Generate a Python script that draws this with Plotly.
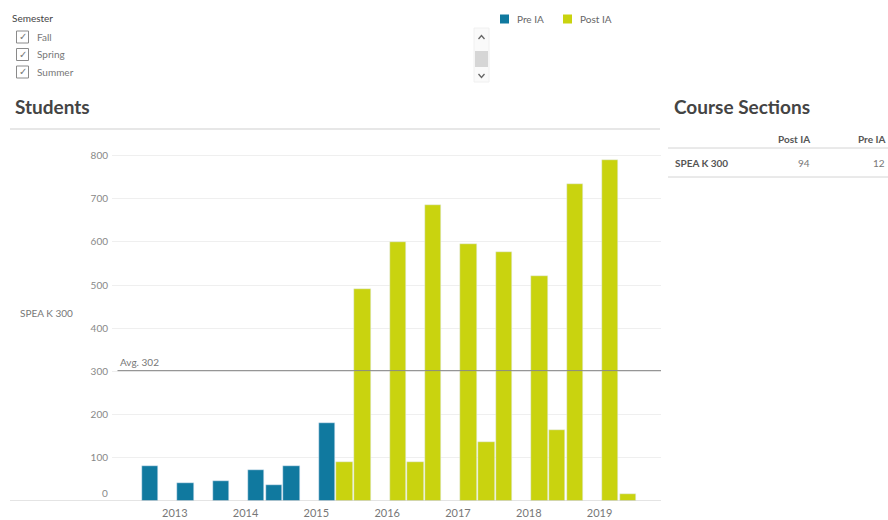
import plotly.graph_objects as go

# Enrolment per term for SPEA K 300
pre_terms = ["Fall 2012", "Spring 2013", "Fall 2013", "Spring 2014", "Summer 2014",
             "Fall 2014", "Spring 2015"]
pre_students = [80, 42, 46, 72, 38, 82, 181]

post_terms = ["Summer 2015", "Fall 2015", "Spring 2016", "Summer 2016", "Fall 2016",
              "Spring 2017", "Summer 2017", "Fall 2017", "Spring 2018", "Summer 2018",
              "Fall 2018", "Spring 2019", "Summer 2019"]
post_students = [91, 492, 600, 91, 685, 596, 137, 576, 522, 165, 735, 790, 17]

years = [2013, 2014, 2015, 2016, 2017, 2018, 2019]
semesters = ["Fall", "Spring", "Summer"]

# Course sections table
section_course = "SPEA K 300"
sections_post = 94
sections_pre = 12

PRE_COLOR = "#10799f"
POST_COLOR = "#c9d30f"
FONT = "Lato, 'Noto Sans', sans-serif"
W, H = 888, 520

SEM_OFFSET = {"Spring": 0, "Summer": 1, "Fall": 2}


def slot(term):
    sem, yr = term.split()
    return 4 * (int(yr) - 2013) + 2 + SEM_OFFSET[sem]


def px(x):
    return x / W


def py(y):
    return 1 - y / H


fig = go.Figure()
fig.add_trace(go.Bar(x=[slot(t) for t in pre_terms], y=pre_students, name="Pre IA",
                     marker_color=PRE_COLOR, width=0.93, showlegend=False))
fig.add_trace(go.Bar(x=[slot(t) for t in post_terms], y=post_students, name="Post IA",
                     marker_color=POST_COLOR, width=0.93, showlegend=False))

all_students = pre_students + post_students
avg = sum(all_students) / len(all_students)

plot_left, plot_right, plot_top, plot_bottom = 112, 661, 135, 501
slot0_px, slot_w = 150, 17.7
x_lo = (plot_left - slot0_px) / slot_w
x_hi = (plot_right - slot0_px) / slot_w
y_hi = (plot_bottom - plot_top) / ((plot_bottom - 155.5) / 800)

fig.update_layout(
    width=W, height=H, margin=dict(l=0, r=0, t=0, b=0),
    paper_bgcolor="white", plot_bgcolor="white",
    font=dict(family=FONT, color="#777", size=10),
    bargap=0,
    xaxis=dict(domain=[px(plot_left), px(plot_right)], range=[x_lo, x_hi],
               tickvals=[4 * (y - 2013) + 1.4 for y in years],
               ticktext=[str(y) for y in years], showgrid=False, zeroline=False,
               showline=False, ticks="", ticklabelstandoff=4,
               tickfont=dict(size=11, color="#777")),
    yaxis=dict(domain=[py(plot_bottom), py(plot_top)], range=[0, y_hi],
               tickvals=[100, 200, 300, 400, 500, 600, 700, 800],
               showgrid=True, gridcolor="#efefef", gridwidth=1, zeroline=False,
               showline=False, ticks="", ticklabelstandoff=3,
               tickfont=dict(size=10, color="#888")),
)

shapes = []
ann = []

# zero baseline of the pane and the "0" tick label
shapes.append(dict(type="line", xref="paper", yref="y", x0=px(10), x1=px(plot_right),
                   y0=0, y1=0, line=dict(color="#c8c8c8", width=1)))
ann.append(dict(xref="paper", yref="y", x=px(110), y=0, yshift=8, text="0",
                showarrow=False, xanchor="right", yanchor="middle",
                font=dict(size=10, color="#888")))

# average reference line
shapes.append(dict(type="line", xref="x domain", yref="y", x0=0.01, x1=1, y0=avg, y1=avg,
                   line=dict(color="#8a8a8a", width=1)))
ann.append(dict(xref="paper", yref="y", x=px(118), y=avg, yshift=9,
                text=f"Avg. {round(avg)}", showarrow=False, xanchor="left",
                yanchor="middle", font=dict(size=10, color="#777")))

# row header
ann.append(dict(xref="paper", yref="paper", x=px(18), y=py(313), text=section_course,
                showarrow=False, xanchor="left", yanchor="middle",
                font=dict(size=10, color="#777")))

# worksheet titles and divider
ann.append(dict(xref="paper", yref="paper", x=px(13), y=py(107), text="<b>Students</b>",
                showarrow=False, xanchor="left", yanchor="middle",
                font=dict(size=19, color="#444")))
shapes.append(dict(type="line", xref="paper", yref="paper", x0=px(10), x1=px(660),
                   y0=py(129), y1=py(129), line=dict(color="#cfcfcf", width=1)))
ann.append(dict(xref="paper", yref="paper", x=px(672), y=py(107),
                text="<b>Course Sections</b>", showarrow=False, xanchor="left",
                yanchor="middle", font=dict(size=19, color="#444")))

# course sections table
ann.append(dict(xref="paper", yref="paper", x=px(812), y=py(139), text="<b>Post IA</b>",
                showarrow=False, xanchor="right", yanchor="middle",
                font=dict(size=10, color="#555")))
ann.append(dict(xref="paper", yref="paper", x=px(887), y=py(139), text="<b>Pre IA</b>",
                showarrow=False, xanchor="right", yanchor="middle",
                font=dict(size=10, color="#555")))
shapes.append(dict(type="line", xref="paper", yref="paper", x0=px(668), x1=1,
                   y0=py(148), y1=py(148), line=dict(color="#d4d4d4", width=1)))
ann.append(dict(xref="paper", yref="paper", x=px(673), y=py(163),
                text=f"<b>{section_course}</b>", showarrow=False, xanchor="left",
                yanchor="middle", font=dict(size=10, color="#555")))
ann.append(dict(xref="paper", yref="paper", x=px(812), y=py(163), text=str(sections_post),
                showarrow=False, xanchor="right", yanchor="middle",
                font=dict(size=10, color="#777")))
ann.append(dict(xref="paper", yref="paper", x=px(887), y=py(163), text=str(sections_pre),
                showarrow=False, xanchor="right", yanchor="middle",
                font=dict(size=10, color="#777")))
shapes.append(dict(type="line", xref="paper", yref="paper", x0=px(668), x1=1,
                   y0=py(177), y1=py(177), line=dict(color="#d4d4d4", width=1)))

# semester filter
ann.append(dict(xref="paper", yref="paper", x=px(10), y=py(18), text="Semester",
                showarrow=False, xanchor="left", yanchor="middle",
                font=dict(size=10, color="#444")))
for i, sem in enumerate(semesters):
    cy = 37 + i * 17.5
    shapes.append(dict(type="rect", xref="paper", yref="paper", x0=px(16.5), x1=px(28.5),
                       y0=py(cy - 6), y1=py(cy + 6), line=dict(color="#8a8a8a", width=1),
                       fillcolor="white"))
    ann.append(dict(xref="paper", yref="paper", x=px(22.5), y=py(cy), text="✓",
                    showarrow=False, xanchor="center", yanchor="middle",
                    font=dict(size=10, color="#777", family="DejaVu Sans")))
    ann.append(dict(xref="paper", yref="paper", x=px(35), y=py(cy), text=sem,
                    showarrow=False, xanchor="left", yanchor="middle",
                    font=dict(size=10, color="#777")))

# filter scrollbar
shapes.append(dict(type="rect", xref="paper", yref="paper", x0=px(474), x1=px(489),
                   y0=py(82), y1=py(28), line=dict(color="#f0f0f0", width=1),
                   fillcolor="#fafafa"))
shapes.append(dict(type="rect", xref="paper", yref="paper", x0=px(475), x1=px(488),
                   y0=py(67), y1=py(51), line=dict(width=0), fillcolor="#d6d6d6"))
shapes.append(dict(type="path", xref="paper", yref="paper",
                   path=f"M {px(478.5)},{py(39)} L {px(481.5)},{py(35.5)} L {px(484.5)},{py(39)}",
                   line=dict(color="#666", width=1.3)))
shapes.append(dict(type="path", xref="paper", yref="paper",
                   path=f"M {px(478.5)},{py(74)} L {px(481.5)},{py(77.5)} L {px(484.5)},{py(74)}",
                   line=dict(color="#666", width=1.3)))

# colour legend
for x0, name, col in [(500, "Pre IA", PRE_COLOR), (563, "Post IA", POST_COLOR)]:
    shapes.append(dict(type="rect", xref="paper", yref="paper", x0=px(x0), x1=px(x0 + 9),
                       y0=py(23.5), y1=py(14.5), line=dict(width=0), fillcolor=col))
    ann.append(dict(xref="paper", yref="paper", x=px(x0 + 15), y=py(19), text=name,
                    showarrow=False, xanchor="left", yanchor="middle",
                    font=dict(size=10, color="#666")))

fig.update_layout(shapes=shapes, annotations=ann)
fig.write_html("out.html")
